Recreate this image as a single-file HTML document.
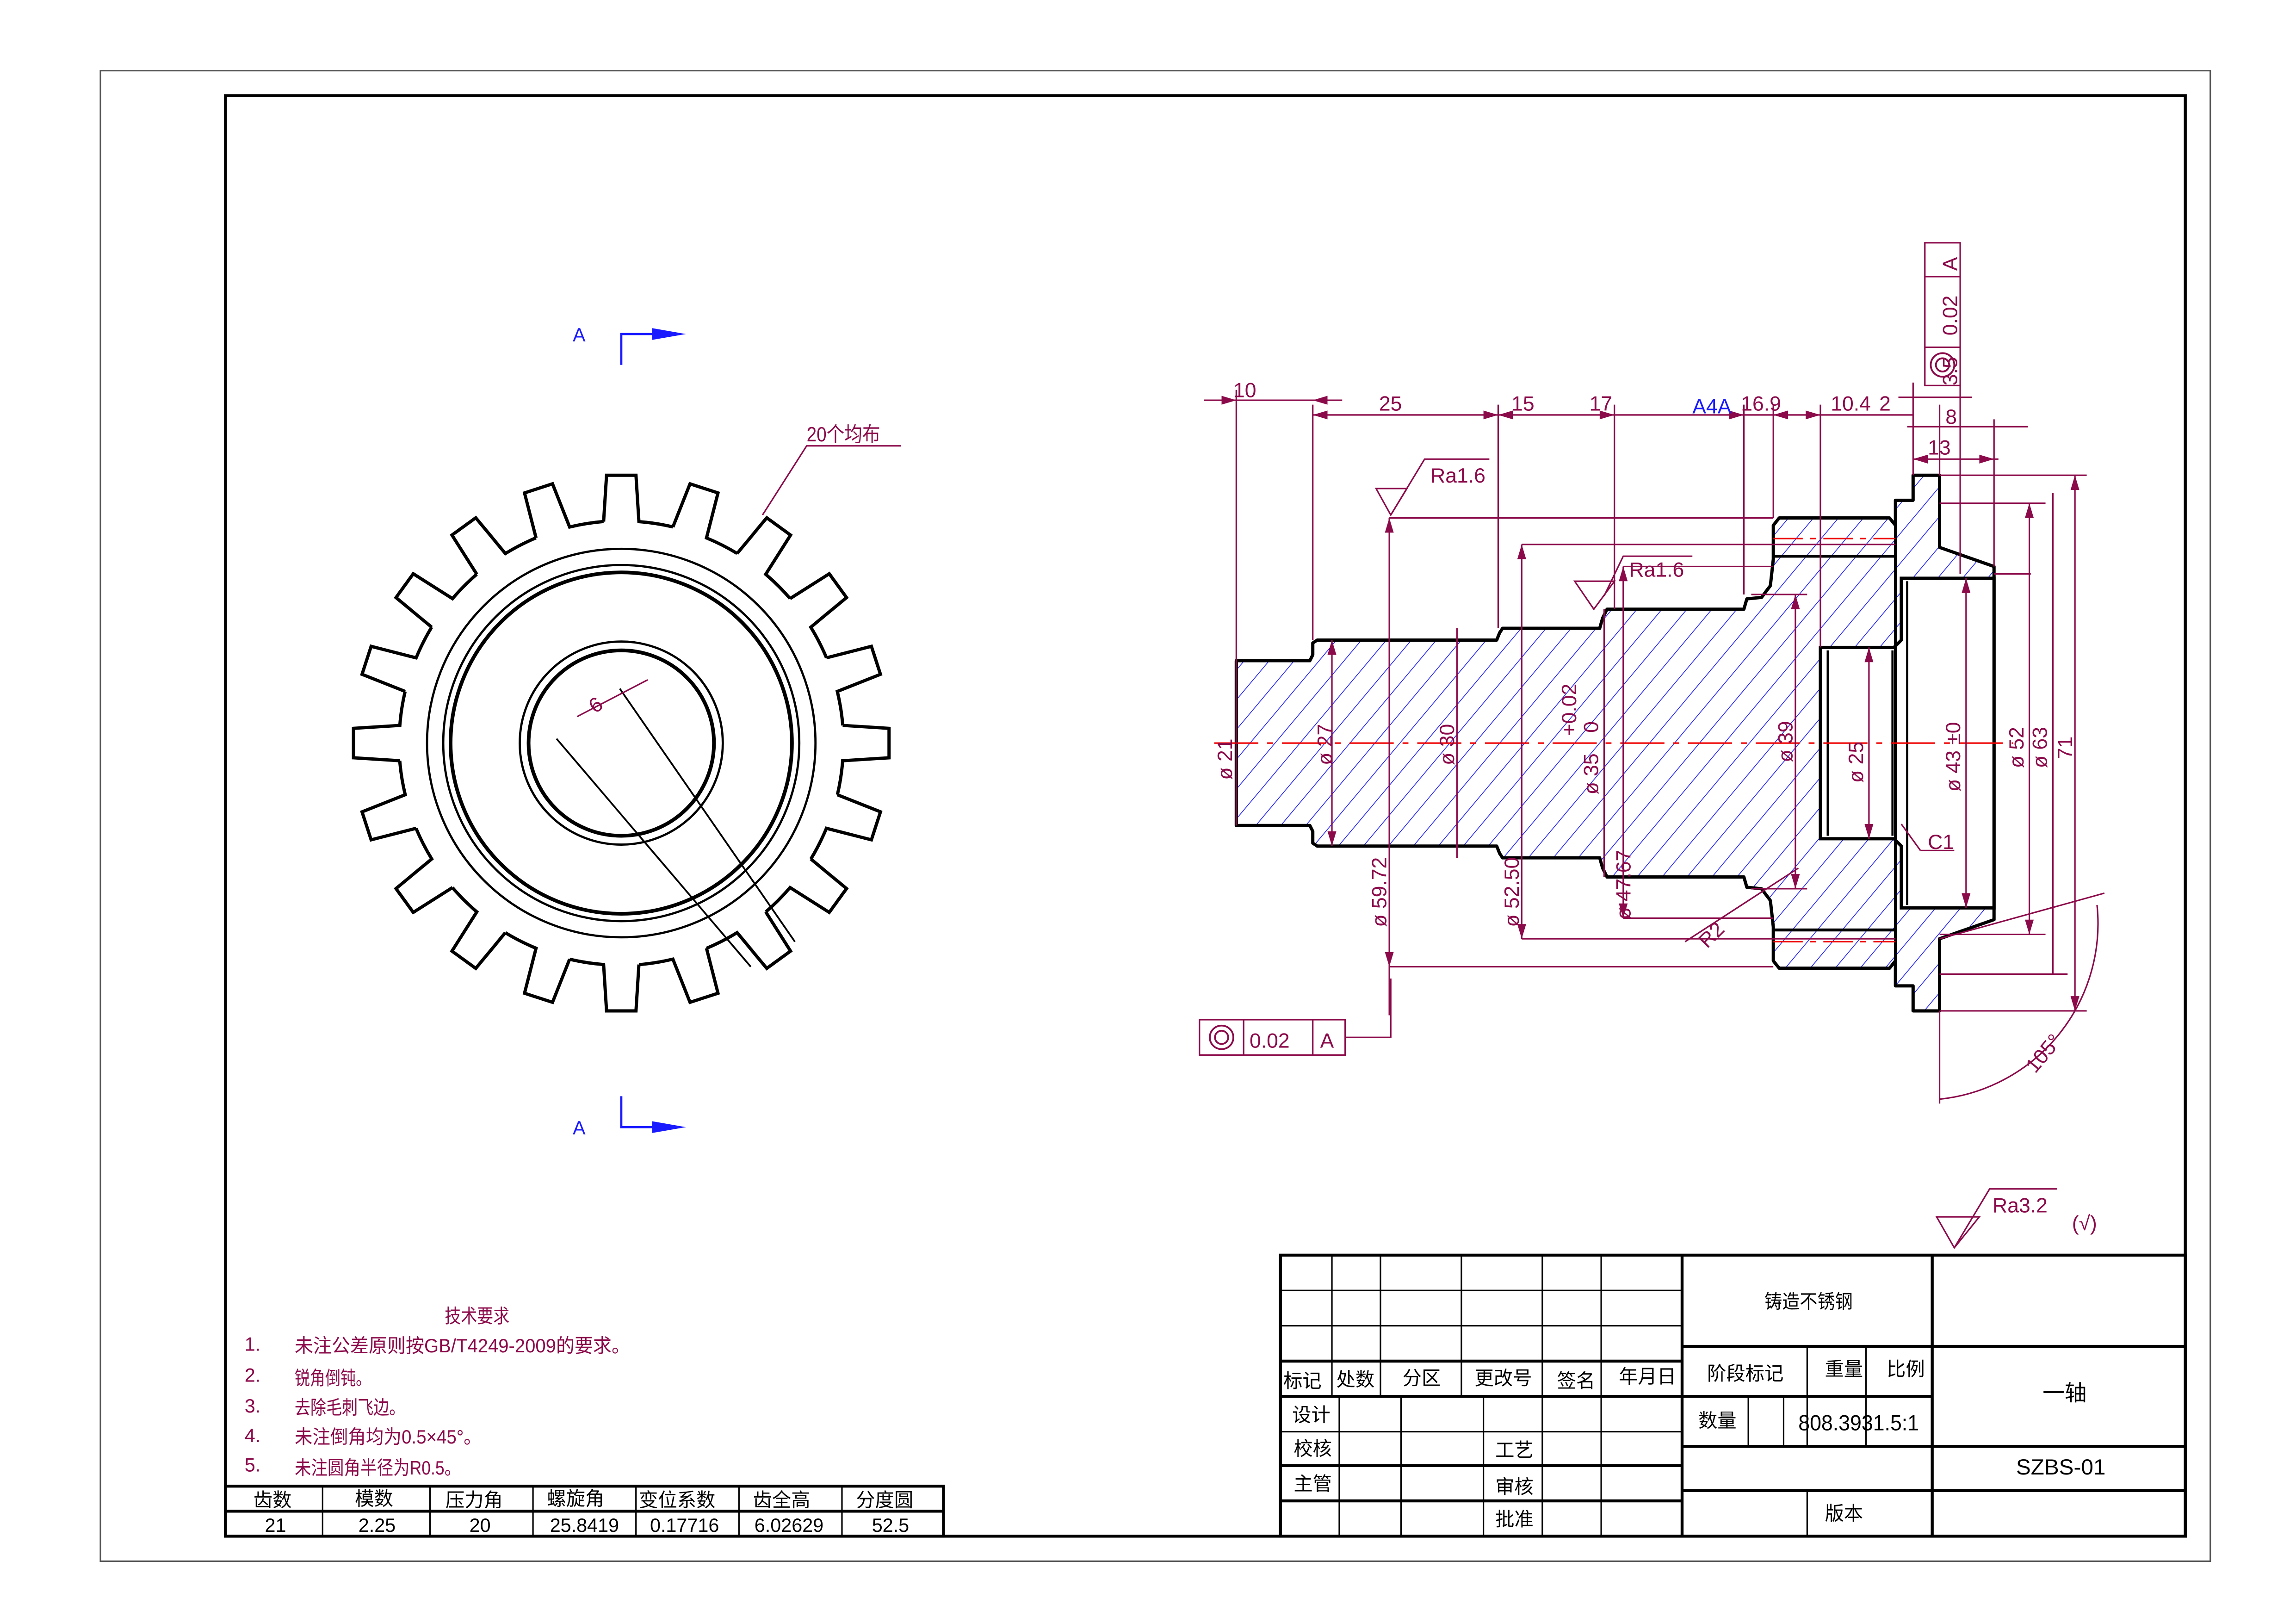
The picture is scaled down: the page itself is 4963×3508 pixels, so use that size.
<!DOCTYPE html>
<html><head><meta charset="utf-8"><style>
html,body{margin:0;padding:0;background:#fff}
svg{display:block}
text{font-family:"Liberation Sans Narrow","Liberation Sans","Noto Sans CJK SC",sans-serif}
.d{fill:#8b0a4a;font-size:14px}
.k{fill:#000;font-size:13px}
</style></head><body>
<svg width="4963" height="3508" viewBox="0 0 1560 1103" xmlns="http://www.w3.org/2000/svg">
<defs>
<pattern id="h" patternUnits="userSpaceOnUse" width="13" height="13" patternTransform="rotate(40)">
<line x1="0" y1="0" x2="0" y2="13" stroke="#1a1aff" stroke-width="1"/>
</pattern>
<path id="tooth" d="M-12,-150.5 L-10,-182 L10,-182 L12,-150.5 A151,151 0 0 1 35.1,-146.9" fill="none" stroke="#000" stroke-width="2.2"/>
</defs>
<rect width="1560" height="1103" fill="#fff"/>
<rect x="68" y="48" width="1434" height="1013" fill="none" stroke="#555" stroke-width="1"/>
<rect x="153" y="65" width="1332" height="979" fill="none" stroke="#000" stroke-width="2"/>

<!-- gear -->
<g transform="translate(422,505)">
<use href="#tooth"/><use href="#tooth" transform="rotate(18)"/><use href="#tooth" transform="rotate(36)"/><use href="#tooth" transform="rotate(54)"/><use href="#tooth" transform="rotate(72)"/><use href="#tooth" transform="rotate(90)"/><use href="#tooth" transform="rotate(108)"/><use href="#tooth" transform="rotate(126)"/><use href="#tooth" transform="rotate(144)"/><use href="#tooth" transform="rotate(162)"/><use href="#tooth" transform="rotate(180)"/><use href="#tooth" transform="rotate(198)"/><use href="#tooth" transform="rotate(216)"/><use href="#tooth" transform="rotate(234)"/><use href="#tooth" transform="rotate(252)"/><use href="#tooth" transform="rotate(270)"/><use href="#tooth" transform="rotate(288)"/><use href="#tooth" transform="rotate(306)"/><use href="#tooth" transform="rotate(324)"/><use href="#tooth" transform="rotate(342)"/>
<circle r="132" fill="none" stroke="#000" stroke-width="1.5"/>
<circle r="121" fill="none" stroke="#000" stroke-width="1.5"/>
<circle r="116" fill="none" stroke="#000" stroke-width="2.5"/>
<circle r="69" fill="none" stroke="#000" stroke-width="1.5"/>
<circle r="63" fill="none" stroke="#000" stroke-width="2.5"/>
</g>
<line x1="378" y1="502" x2="510" y2="657" stroke="#000" stroke-width="1.2"/>
<line x1="421" y1="468" x2="540" y2="640" stroke="#000" stroke-width="1.2"/>
<line x1="392" y1="487" x2="440" y2="462" stroke="#8b0a4a" stroke-width="1"/>
<text class="d" x="400" y="484" transform="rotate(-35 404 478)">6</text>
<polyline points="518,350 548,303 612,303" fill="none" stroke="#8b0a4a" stroke-width="1"/>
<text class="d" x="548" y="300" textLength="50" lengthAdjust="spacingAndGlyphs">20个均布</text>

<!-- section A markers -->
<text x="389" y="232" fill="#1a1aff" font-size="13">A</text>
<polyline points="422,248 422,227 445,227" fill="none" stroke="#1a1aff" stroke-width="1.5"/>
<polygon points="443,223 466,227 443,231" fill="#1a1aff"/>
<text x="389" y="771" fill="#1a1aff" font-size="13">A</text>
<polyline points="422,745 422,766 445,766" fill="none" stroke="#1a1aff" stroke-width="1.5"/>
<polygon points="443,762 466,766 443,770" fill="#1a1aff"/>

<!-- shaft section -->
<polygon fill="url(#h)" stroke="#000" stroke-width="2.2" stroke-linejoin="round" points="
840,449 890,449 892,445 892,437 895,435 1017,435 1019,430 1021,427 1087,427 1089,420 1092,414 1185,414 1187,407 1197,406 1203,398 1205,380 1205,357 1209,352 1284,352 1288,357 1288,340 1300,340 1300,323 1318,323 1318,372 1355,385 1355,625 1318,638 1318,687 1300,687 1300,670 1288,670 1288,653 1284,658 1209,658 1205,653 1205,630 1203,612 1197,604 1187,603 1185,596 1092,596 1089,590 1087,583 1021,583 1019,580 1017,575 895,575 892,573 892,565 890,561 840,561"/>
<polygon fill="#fff" stroke="#000" stroke-width="2.2" points="1237,440 1287,440 1292,435 1292,393 1355,393 1355,617 1292,617 1292,575 1287,570 1237,570"/>
<line x1="1242" y1="442" x2="1242" y2="568" stroke="#000" stroke-width="1.5"/>
<line x1="1286" y1="442" x2="1286" y2="568" stroke="#000" stroke-width="1.5"/>
<line x1="1296" y1="395" x2="1296" y2="615" stroke="#000" stroke-width="1.5"/>
<line x1="1205" y1="378" x2="1288" y2="378" stroke="#000" stroke-width="2"/>
<line x1="1205" y1="632" x2="1288" y2="632" stroke="#000" stroke-width="2"/>
<line x1="1288" y1="357" x2="1288" y2="653" stroke="#000" stroke-width="2"/>
<line x1="825" y1="505" x2="1368" y2="505" stroke="#e00" stroke-width="1" stroke-dasharray="30,6,4,6"/>
<line x1="1205" y1="366" x2="1288" y2="366" stroke="#e00" stroke-width="1" stroke-dasharray="20,5,4,5"/>
<line x1="1205" y1="640" x2="1288" y2="640" stroke="#e00" stroke-width="1" stroke-dasharray="20,5,4,5"/>

<!-- dimension lines -->
<g stroke="#8b0a4a" stroke-width="1" fill="none">
<line x1="818" y1="272" x2="912" y2="272"/>
<line x1="892" y1="282" x2="1300" y2="282"/>
<line x1="1290" y1="270" x2="1340" y2="270"/>
<line x1="1296" y1="290" x2="1378" y2="290"/>
<line x1="1300" y1="312" x2="1358" y2="312"/>
<line x1="840" y1="265" x2="840" y2="449"/>
<line x1="892" y1="275" x2="892" y2="435"/>
<line x1="1018" y1="275" x2="1018" y2="427"/>
<line x1="1097" y1="275" x2="1097" y2="414"/>
<line x1="1185" y1="275" x2="1185" y2="404"/>
<line x1="1205" y1="275" x2="1205" y2="352"/>
<line x1="1237" y1="275" x2="1237" y2="440"/>
<line x1="1300" y1="260" x2="1300" y2="323"/>
<line x1="1318" y1="275" x2="1318" y2="323"/>
<line x1="1332" y1="262" x2="1332" y2="390"/>
<line x1="1355" y1="285" x2="1355" y2="385"/>
<line x1="944" y1="352" x2="1205" y2="352"/>
<line x1="944" y1="657" x2="1205" y2="657"/>
<line x1="1034" y1="370" x2="1288" y2="370"/>
<line x1="1034" y1="638" x2="1288" y2="638"/>
<line x1="1103" y1="385" x2="1205" y2="385"/>
<line x1="1103" y1="624" x2="1205" y2="624"/>
<line x1="1190" y1="404" x2="1228" y2="404"/>
<line x1="1190" y1="604" x2="1228" y2="604"/>
<line x1="1318" y1="342" x2="1390" y2="342"/>
<line x1="1318" y1="323" x2="1418" y2="323"/>
<line x1="1318" y1="687" x2="1418" y2="687"/>
<line x1="1355" y1="390" x2="1380" y2="390"/>
<line x1="1318" y1="635" x2="1390" y2="635"/>
<line x1="1318" y1="662" x2="1405" y2="662"/>
<line x1="840" y1="449" x2="840" y2="561"/>
<line x1="905" y1="435" x2="905" y2="575"/>
<line x1="990" y1="427" x2="990" y2="583"/>
<line x1="1090" y1="414" x2="1090" y2="596"/>
<line x1="944" y1="352" x2="944" y2="690"/>
<line x1="1034" y1="370" x2="1034" y2="638"/>
<line x1="1103" y1="385" x2="1103" y2="624"/>
<line x1="1220" y1="404" x2="1220" y2="604"/>
<line x1="1270" y1="440" x2="1270" y2="570"/>
<line x1="1336" y1="393" x2="1336" y2="617"/>
<line x1="1379" y1="342" x2="1379" y2="635"/>
<line x1="1395" y1="335" x2="1395" y2="662"/>
<line x1="1410" y1="323" x2="1410" y2="687"/>
<line x1="1318" y1="687" x2="1318" y2="750"/>
<line x1="1318" y1="638" x2="1430" y2="607"/>
<path d="M1318,747 A120,120 0 0 0 1425,615"/>
<line x1="1145" y1="640" x2="1222" y2="590"/>
<line x1="1292" y1="560" x2="1305" y2="578"/>
<line x1="1305" y1="578" x2="1328" y2="578"/>
<polygon points="935,332 956,332 945,350"/>
<polyline points="945,350 968,312 1012,312"/>
<polygon points="1070,395 1097,395 1083,414"/>
<polyline points="1090,405 1103,378 1150,378"/>
<polygon points="1316,827 1345,827 1328,848"/>
<polyline points="1328,848 1352,808 1398,808"/>
<rect x="815" y="693" width="99" height="24"/>
<line x1="845" y1="693" x2="845" y2="717"/>
<line x1="892" y1="693" x2="892" y2="717"/>
<polyline points="914,705 945,705 945,665"/>
<rect x="1308" y="165" width="24" height="97"/>
<line x1="1308" y1="188" x2="1332" y2="188"/>
<line x1="1308" y1="236" x2="1332" y2="236"/>
</g>
<g fill="#8b0a4a">
<polygon points="840,272 830,269 830,275"/><polygon points="892,272 902,269 902,275"/>
<polygon points="892,282 902,279 902,285"/><polygon points="1018,282 1008,279 1008,285"/><polygon points="1018,282 1028,279 1028,285"/>
<polygon points="1097,282 1087,279 1087,285"/><polygon points="1185,282 1175,279 1175,285"/><polygon points="1205,282 1215,279 1215,285"/>
<polygon points="1237,282 1227,279 1227,285"/><polygon points="1300,312 1310,309 1310,315"/><polygon points="1355,312 1345,309 1345,315"/>
<polygon points="944,352 941,362 947,362"/><polygon points="944,657 941,647 947,647"/>
<polygon points="1034,370 1031,380 1037,380"/><polygon points="1034,638 1031,628 1037,628"/>
<polygon points="1103,385 1100,395 1106,395"/><polygon points="1103,624 1100,614 1106,614"/>
<polygon points="1336,393 1333,403 1339,403"/><polygon points="1336,617 1333,607 1339,607"/>
<polygon points="1379,342 1376,352 1382,352"/><polygon points="1379,635 1376,625 1382,625"/>
<polygon points="1410,323 1407,333 1413,333"/><polygon points="1410,687 1407,677 1413,677"/>
<polygon points="905,435 902,445 908,445"/><polygon points="905,575 902,565 908,565"/>
<polygon points="1270,440 1267,450 1273,450"/><polygon points="1270,570 1267,560 1273,560"/>
<polygon points="1220,404 1217,414 1223,414"/><polygon points="1220,604 1217,594 1223,594"/>
</g>
<g class="d">
<text x="838" y="270" class="d">10</text>
<text x="937" y="279" class="d">25</text>
<text x="1027" y="279" class="d">15</text>
<text x="1080" y="279" class="d">17</text>
<text x="1150" y="281" fill="#1a1aff" font-size="14">A4A</text>
<text x="1183" y="279" class="d">16.9</text>
<text x="1244" y="279" class="d">10.4</text>
<text x="1277" y="279" class="d">2</text>
<text x="1322" y="288" class="d">8</text>
<text x="1310" y="309" class="d">13</text>
<text x="972" y="328" class="d" font-size="16">Ra1.6</text>
<text x="1107" y="392" class="d" font-size="16">Ra1.6</text>
<text x="1354" y="824" class="d" font-size="16">Ra3.2</text>
<text x="1408" y="836" class="d" font-size="15">(√)</text>
<text x="1310" y="577" class="d">C1</text>
<text class="d" transform="translate(1160,645) rotate(-45)">R2</text>
<text class="d" transform="translate(1383,730) rotate(-50)">105°</text>
<text class="d" transform="translate(837,530) rotate(-90)">ø 21</text>
<text class="d" transform="translate(905,520) rotate(-90)">ø 27</text>
<text class="d" transform="translate(988,520) rotate(-90)">ø 30</text>
<text class="d" transform="translate(1086,540) rotate(-90)">ø 35</text>
<text class="d" transform="translate(1071,500) rotate(-90)" font-size="12">+0.02</text>
<text class="d" transform="translate(1086,498) rotate(-90)" font-size="12">0</text>
<text class="d" transform="translate(1218,518) rotate(-90)">ø 39</text>
<text class="d" transform="translate(1266,532) rotate(-90)">ø 25</text>
<text class="d" transform="translate(1332,538) rotate(-90)">ø 43 ±0</text>
<text class="d" transform="translate(1375,522) rotate(-90)">ø 52</text>
<text class="d" transform="translate(1391,522) rotate(-90)">ø 63</text>
<text class="d" transform="translate(1408,516) rotate(-90)">71</text>
<text class="d" transform="translate(942,630) rotate(-90)">ø 59.72</text>
<text class="d" transform="translate(1032,630) rotate(-90)">ø 52.50</text>
<text class="d" transform="translate(1108,625) rotate(-90)">ø 47.67</text>
<text class="d" transform="translate(1330,228) rotate(-90)" font-size="16">0.02</text>
<text class="d" transform="translate(1330,184) rotate(-90)" font-size="16">A</text>
<text class="d" transform="translate(1330,262) rotate(-90)" font-size="11">3.5</text>
<text x="849" y="712" class="d" font-size="16">0.02</text>
<text x="897" y="712" class="d" font-size="16">A</text>
</g>
<g fill="none" stroke="#8b0a4a" stroke-width="1.2">
<circle cx="830" cy="705" r="8"/><circle cx="830" cy="705" r="4.5"/>
<circle cx="1320" cy="248" r="8"/><circle cx="1320" cy="248" r="4.5"/>
</g>

<g fill="#8b0a4a" font-size="13">
<text x="302" y="899" textLength="44" lengthAdjust="spacingAndGlyphs">技术要求</text>
<text x="166" y="918">1.</text><text x="200" y="919" textLength="228" lengthAdjust="spacingAndGlyphs">未注公差原则按GB/T4249-2009的要求。</text>
<text x="166" y="939">2.</text><text x="200" y="941" textLength="52" lengthAdjust="spacingAndGlyphs">锐角倒钝。</text>
<text x="166" y="960">3.</text><text x="200" y="961" textLength="75" lengthAdjust="spacingAndGlyphs">去除毛刺飞边。</text>
<text x="166" y="980">4.</text><text x="200" y="981" textLength="127" lengthAdjust="spacingAndGlyphs">未注倒角均为0.5×45°。</text>
<text x="166" y="1000">5.</text><text x="200" y="1002" textLength="113" lengthAdjust="spacingAndGlyphs">未注圆角半径为R0.5。</text>
</g>
<g stroke="#000" fill="none">
<rect x="153" y="1010" width="488" height="34" stroke-width="2"/>
<line x1="153" y1="1027" x2="641" y2="1027" stroke-width="2"/>
<line x1="219" y1="1010" x2="219" y2="1044"/><line x1="292" y1="1010" x2="292" y2="1044"/><line x1="362" y1="1010" x2="362" y2="1044"/><line x1="432" y1="1010" x2="432" y2="1044"/><line x1="502" y1="1010" x2="502" y2="1044"/><line x1="572" y1="1010" x2="572" y2="1044"/>
</g>
<g fill="#000" font-size="13" text-anchor="middle">
<text x="185" y="1024">齿数</text><text x="254" y="1023">模数</text><text x="322" y="1024">压力角</text><text x="391" y="1023">螺旋角</text><text x="460" y="1024">变位系数</text><text x="531" y="1024">齿全高</text><text x="601" y="1024">分度圆</text>
<text x="187" y="1041">21</text><text x="256" y="1041">2.25</text><text x="326" y="1041">20</text><text x="397" y="1041">25.8419</text><text x="465" y="1041">0.17716</text><text x="536" y="1041">6.02629</text><text x="605" y="1041">52.5</text>
</g>

<g stroke="#000" fill="none" stroke-width="1">
<rect x="870" y="853" width="615" height="191" stroke-width="2"/>
<line x1="870" y1="877" x2="1143" y2="877"/><line x1="870" y1="901" x2="1143" y2="901"/>
<line x1="870" y1="925" x2="1143" y2="925" stroke-width="2"/><line x1="870" y1="949" x2="1313" y2="949" stroke-width="2"/>
<line x1="870" y1="973" x2="1143" y2="973"/><line x1="870" y1="996" x2="1143" y2="996" stroke-width="2"/><line x1="870" y1="1020" x2="1143" y2="1020" stroke-width="2"/>
<line x1="905" y1="853" x2="905" y2="949"/><line x1="938" y1="853" x2="938" y2="949"/><line x1="993" y1="853" x2="993" y2="949"/>
<line x1="910" y1="949" x2="910" y2="1044"/><line x1="952" y1="949" x2="952" y2="1044"/><line x1="1008" y1="949" x2="1008" y2="1044"/>
<line x1="1048" y1="853" x2="1048" y2="1044"/><line x1="1088" y1="853" x2="1088" y2="1044"/>
<line x1="1143" y1="853" x2="1143" y2="1044" stroke-width="2"/><line x1="1313" y1="853" x2="1313" y2="1044" stroke-width="2"/>
<line x1="1143" y1="915" x2="1485" y2="915" stroke-width="2"/>
<line x1="1143" y1="983" x2="1485" y2="983" stroke-width="2"/>
<line x1="1143" y1="1013" x2="1485" y2="1013" stroke-width="2"/>
<line x1="1228" y1="915" x2="1228" y2="983"/><line x1="1268" y1="915" x2="1268" y2="983"/>
<line x1="1188" y1="949" x2="1188" y2="983"/><line x1="1212" y1="949" x2="1212" y2="983"/>
<line x1="1228" y1="1013" x2="1228" y2="1044"/>
</g>
<g fill="#000" font-size="13">
<text x="1199" y="889" textLength="60" lengthAdjust="spacingAndGlyphs">铸造不锈钢</text>
<text x="872" y="943">标记</text><text x="908" y="942">处数</text><text x="953" y="941">分区</text><text x="1002" y="941">更改号</text><text x="1058" y="943">签名</text><text x="1100" y="940">年月日</text>
<text x="878" y="966">设计</text><text x="879" y="989">校核</text><text x="1016" y="990">工艺</text><text x="879" y="1013">主管</text><text x="1016" y="1015">审核</text><text x="1016" y="1037">批准</text>
<text x="1160" y="938">阶段标记</text><text x="1240" y="935">重量</text><text x="1282" y="935">比例</text>
<text x="1154" y="970">数量</text>
<text x="1222" y="972" textLength="82" lengthAdjust="spacingAndGlyphs" font-size="15">808.3931.5:1</text>
<text x="1388" y="952" font-size="15">一轴</text>
<text x="1370" y="1002" font-size="15">SZBS-01</text>
<text x="1240" y="1033">版本</text>
</g>
</svg>
</body></html>
